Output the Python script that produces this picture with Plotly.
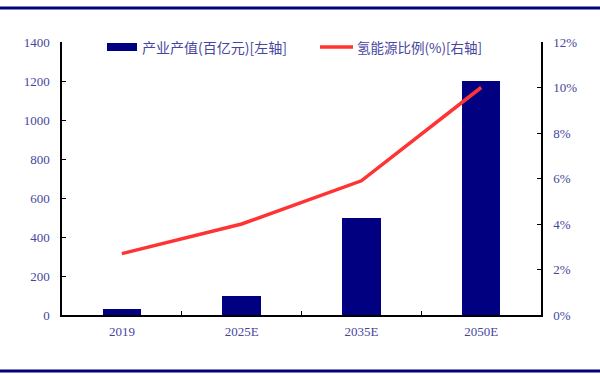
import plotly.graph_objects as go

categories = ["2019", "2025E", "2035E", "2050E"]
output_value = [30, 100, 500, 1200]          # 产业产值(百亿元) left axis
hydrogen_share = [2.7, 4.0, 5.9, 10.0]        # 氢能源比例(%) right axis
bar_name = "产业产值(百亿元)[左轴]"
line_name = "氢能源比例(%)[右轴]"

NAVY = "#000080"
RED = "#FF3333"
TXT = "#4646a0"

fig = go.Figure()
fig.add_trace(go.Bar(x=categories, y=output_value, name=bar_name,
                     marker=dict(color=NAVY, line=dict(width=0)), width=0.32,
                     yaxis="y", showlegend=False))
fig.add_trace(go.Scatter(x=categories, y=hydrogen_share, name=line_name,
                         mode="lines", line=dict(color=RED, width=3.5),
                         yaxis="y2", showlegend=False))

W, H = 600, 374
L, R, T, B = 62, 59, 42, 59
pw, ph = W - L - R, H - T - B

def px(x):
    return (x - L) / pw

def py(y):
    return (H - B - y) / ph

shapes = [
    dict(type="line", xref="paper", yref="paper", x0=px(0), x1=px(W), y0=py(8), y1=py(8),
         line=dict(color=NAVY, width=3)),
    dict(type="line", xref="paper", yref="paper", x0=px(0), x1=px(W), y0=py(371), y1=py(371),
         line=dict(color=NAVY, width=3)),
    dict(type="rect", xref="paper", yref="paper", x0=px(107), x1=px(137), y0=py(51), y1=py(43),
         fillcolor=NAVY, line=dict(width=0)),
    dict(type="line", xref="paper", yref="paper", x0=px(320), x1=px(353), y0=py(47), y1=py(47),
         line=dict(color=RED, width=3.5)),
]
annotations = [
    dict(xref="paper", yref="paper", x=px(140), y=py(47), text=bar_name, showarrow=False,
         xanchor="left", yanchor="middle",
         font=dict(family="Noto Sans CJK SC", size=14, color=TXT)),
    dict(xref="paper", yref="paper", x=px(355), y=py(47), text=line_name, showarrow=False,
         xanchor="left", yanchor="middle",
         font=dict(family="Noto Sans CJK SC", size=13.5, color=TXT)),
]

tickfont = dict(family="Liberation Serif", size=13, color=TXT)

fig.update_layout(
    width=W, height=H,
    margin=dict(l=L, r=R, t=T, b=B),
    paper_bgcolor="white", plot_bgcolor="white",
    shapes=shapes, annotations=annotations,
    xaxis=dict(type="category", showgrid=False, showline=True, linecolor="black", linewidth=1.5,
               ticks="inside", tickson="boundaries", ticklen=4, tickcolor="black",
               tickfont=tickfont, range=[-0.5, 3.5], ticklabelstandoff=4),
    yaxis=dict(range=[0, 1400], dtick=200, showgrid=False, showline=True, linecolor="black",
               linewidth=1.5, ticks="inside", ticklen=4, tickcolor="black", tickfont=tickfont,
               zeroline=False, ticklabelstandoff=8),
    yaxis2=dict(range=[0, 12], dtick=2, overlaying="y", side="right", showgrid=False,
                showline=True, linecolor="black", linewidth=1.5, ticks="inside", ticklen=4,
                tickcolor="black", ticksuffix="%", tickfont=tickfont, zeroline=False,
                ticklabelstandoff=8),
    bargap=0,
)

fig.write_html("out.html", config={"displayModeBar": False},
               post_script="document.body.style.margin='0';document.body.style.overflow='hidden';")
